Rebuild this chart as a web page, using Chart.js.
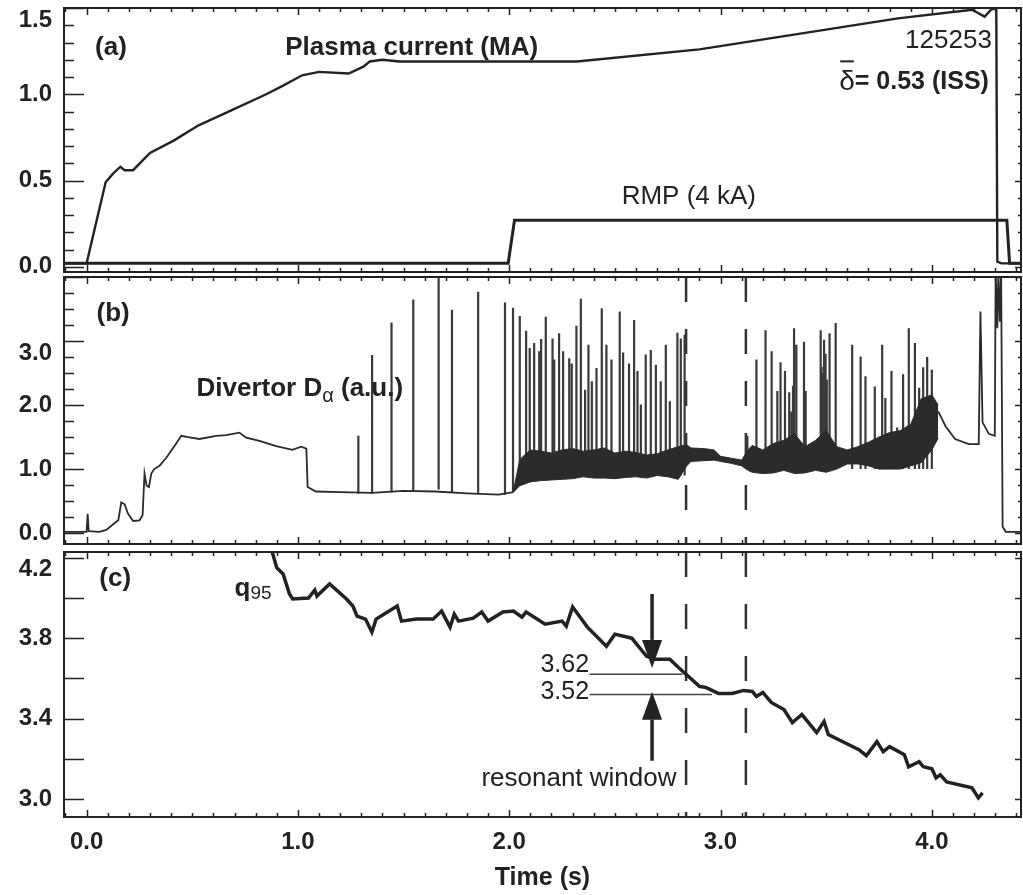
<!DOCTYPE html>
<html>
<head>
<meta charset="utf-8">
<script src="https://cdn.jsdelivr.net/npm/chart.js@4.4.1/dist/chart.umd.min.js"></script>
<style>
  html, body { margin: 0; padding: 0; background: #fff; }
  #wrap { position: relative; width: 1023px; height: 895px; overflow: hidden; }
  canvas { position: absolute; left: 0; }
</style>
</head>
<body>
<div id="wrap">
  <canvas id="panelA" width="1023" height="280" style="top:0px"></canvas>
  <canvas id="panelB" width="1023" height="277" style="top:275px"></canvas>
  <canvas id="panelC" width="1023" height="348" style="top:547px"></canvas>
</div>
<script>
const ink = "#222";
const sans = "'Liberation Sans', Arial, Helvetica, sans-serif";

// shared time axis (s)
const tMin = -0.107, tMax = 4.422;
const xTickVals = [0, 1, 2, 3, 4];

// (a) plasma current and RMP coil current
const ipT = [-0.107, 0.0, 0.09, 0.125, 0.16, 0.18, 0.22, 0.30, 0.41, 0.53, 0.69, 0.85, 0.93, 1.02, 1.10, 1.24, 1.31, 1.34, 1.40, 1.48, 1.70, 2.00, 2.32, 2.90, 3.37, 3.84, 4.19, 4.25, 4.28, 4.305, 4.31, 4.33, 4.422];
const ipV = [0.02, 0.02, 0.49, 0.54, 0.58, 0.56, 0.56, 0.66, 0.73, 0.82, 0.91, 1.00, 1.05, 1.11, 1.13, 1.12, 1.16, 1.19, 1.20, 1.19, 1.19, 1.19, 1.19, 1.26, 1.35, 1.44, 1.49, 1.45, 1.49, 1.50, 0.03, 0.02, 0.02];
const rmpT = [-0.107, 1.995, 2.025, 4.355, 4.368, 4.422];
const rmpV = [0.02, 0.02, 0.27, 0.27, 0.02, 0.02];
const yTicksA = [0, 0.5, 1.0, 1.5];

// (b) divertor D-alpha
const daPre = [[-0.107, 0.02], [0.0, 0.02], [0.005, 0.3], [0.01, 0.03], [0.06, 0.02], [0.093, 0.05], [0.13, 0.15], [0.15, 0.2], [0.164, 0.48], [0.18, 0.45], [0.195, 0.31], [0.22, 0.19], [0.25, 0.2], [0.265, 0.28], [0.274, 0.93], [0.284, 0.74], [0.295, 0.72], [0.306, 0.93], [0.32, 1.0], [0.345, 1.05], [0.378, 1.18], [0.416, 1.36], [0.448, 1.52], [0.48, 1.5], [0.534, 1.47], [0.613, 1.52], [0.66, 1.53], [0.723, 1.57], [0.755, 1.49], [0.818, 1.44], [0.897, 1.36], [0.974, 1.3], [1.015, 1.35], [1.04, 1.32], [1.046, 0.72], [1.085, 0.65], [1.2, 0.64], [1.35, 0.63], [1.5, 0.66], [1.65, 0.65], [1.8, 0.62], [1.95, 0.6], [2.02, 0.64]];
const daPost = [[4.03, 1.9], [4.065, 1.67], [4.11, 1.47], [4.175, 1.39], [4.222, 1.39], [4.23, 3.46], [4.24, 1.73], [4.27, 1.55], [4.298, 1.52], [4.302, 4.1], [4.31, 3.2], [4.315, 4.1], [4.322, 3.3], [4.328, 4.1], [4.335, 0.1], [4.35, 0.02], [4.422, 0.02]];
const elmT = [1.286, 1.351, 1.443, 1.546, 1.666, 1.729, 1.853, 1.98, 2.018,
  2.05, 2.08, 2.097, 2.118, 2.142, 2.151, 2.173, 2.205, 2.213, 2.236,
  2.255, 2.284, 2.296, 2.318, 2.339, 2.359, 2.375, 2.391, 2.413, 2.438,
  2.46, 2.484, 2.523, 2.539, 2.567, 2.591, 2.607, 2.623, 2.646, 2.67,
  2.694, 2.717, 2.741, 2.76, 2.796, 2.812, 2.83,
  3.127, 3.17, 3.213, 3.242, 3.269, 3.284, 3.305, 3.348, 3.359, 3.395,
  3.403, 3.474, 3.49, 3.516, 3.545, 3.623, 3.663, 3.686, 3.73, 3.765,
  3.78, 3.809, 3.836, 3.864, 3.891, 3.92, 3.94, 3.959, 3.978, 4.0,
  3.325, 3.336, 3.343, 3.478, 3.484, 3.497, 3.503];
const elmPeak = [1.52, 2.78, 3.29, 3.65, 4.1, 3.49, 3.77, 3.6, 3.52,
  3.39, 3.16, 2.89, 2.97, 2.84, 3.03, 3.38, 3.04, 2.71, 3.12,
  2.84, 2.73, 2.65, 3.24, 3.66, 2.24, 2.94, 2.37, 2.58, 3.51,
  2.94, 2.71, 3.46, 2.82, 2.65, 3.33, 2.53, 2.01, 2.79, 2.86,
  2.63, 2.37, 2.94, 2.06, 3.13, 3.04, 3.10,
  1.52, 2.71, 3.17, 2.84, 2.22, 2.67, 2.53, 3.2, 2.94, 2.99,
  2.22, 3.17, 3.02, 3.12, 3.28, 2.94, 2.76, 2.45, 2.29, 2.94,
  2.11, 2.53, 1.65, 2.48, 3.2, 2.97, 2.27, 2.59, 2.75, 2.55,
  2.2, 1.9, 2.3, 2.6, 2.5, 2.8, 2.4];
const elmFoot = [0.62, 0.62, 0.64, 0.66, 0.68, 0.64, 0.61, 0.60, 0.64,
  0.9, 0.9, 0.9, 0.9, 0.9, 0.9, 0.9, 0.9, 0.9, 0.9,
  0.9, 0.9, 0.9, 0.9, 0.9, 0.9, 0.9, 0.9, 0.9, 0.9,
  0.9, 0.9, 0.9, 0.9, 0.9, 0.9, 0.9, 0.9, 0.9, 0.9,
  0.9, 0.9, 0.9, 0.9, 0.9, 0.9, 0.9,
  1.0, 1.0, 1.0, 1.0, 1.0, 1.0, 1.0, 1.0, 1.0, 1.0,
  1.0, 1.0, 1.0, 1.0, 1.0, 1.0, 1.0, 1.0, 1.0, 1.0,
  1.0, 1.0, 1.0, 1.0, 1.0, 1.0, 1.0, 1.0, 1.0, 1.0,
  1.0, 1.0, 1.0, 1.0, 1.0, 1.0, 1.0];
// dense ELM band: lower / upper envelope
const bandT = [2.02, 2.05, 2.10, 2.15, 2.20, 2.25, 2.30, 2.35, 2.40, 2.45, 2.50, 2.55, 2.60, 2.65, 2.70, 2.75, 2.80, 2.84,
  2.86, 2.92, 2.97, 3.00, 3.05, 3.10,
  3.13, 3.15, 3.20, 3.25, 3.30, 3.35, 3.40, 3.45, 3.50, 3.55, 3.60, 3.65, 3.70, 3.75, 3.80, 3.85, 3.90, 3.95, 4.00, 4.03];
const bandLo = [0.64, 0.74, 0.80, 0.82, 0.83, 0.84, 0.85, 0.88, 0.86, 0.86, 0.85, 0.87, 0.88, 0.86, 0.90, 0.88, 0.84, 1.05,
  1.12, 1.13, 1.14, 1.12, 1.09, 1.05,
  0.98, 0.95, 0.93, 0.94, 0.98, 0.93, 0.94, 0.98, 0.95, 1.0, 1.08, 1.08, 1.05, 1.0, 1.0, 1.0, 1.05, 1.1, 1.3, 1.48];
const bandHi = [0.66, 1.15, 1.30, 1.28, 1.25, 1.30, 1.32, 1.28, 1.30, 1.33, 1.25, 1.28, 1.26, 1.22, 1.24, 1.30, 1.35, 1.38,
  1.33, 1.32, 1.30, 1.20, 1.17, 1.14,
  1.30, 1.37, 1.30, 1.40, 1.45, 1.55, 1.35, 1.45, 1.6, 1.35, 1.3, 1.35, 1.42, 1.5, 1.57, 1.6, 1.7, 2.1, 2.16, 2.0];
const yTicksB = [0, 1, 2, 3];
const windowT = [2.837, 3.12];

// (c) q95
const qT = [0.87, 0.90, 0.93, 0.96, 0.975, 1.05, 1.08, 1.09, 1.15, 1.23, 1.26, 1.28, 1.32, 1.35, 1.37, 1.47, 1.49, 1.56, 1.64, 1.68,
  1.72, 1.74, 1.76, 1.83, 1.87, 1.90, 1.97, 2.02, 2.06, 2.08, 2.17, 2.25, 2.27, 2.30, 2.37, 2.46, 2.50, 2.58, 2.65, 2.69,
  2.76, 2.80, 2.90, 2.93, 2.99, 3.055, 3.11, 3.15, 3.17, 3.20, 3.24, 3.30, 3.34, 3.385, 3.455, 3.49, 3.51, 3.655, 3.69, 3.74,
  3.77, 3.80, 3.87, 3.89, 3.94, 3.96, 4.00, 4.02, 4.04, 4.07, 4.19, 4.22, 4.24];
const qV = [4.26, 4.15, 4.12, 4.02, 3.995, 4.0, 4.04, 4.01, 4.07, 3.995, 3.96, 3.91, 3.895, 3.83, 3.895, 3.96, 3.885, 3.895, 3.895, 3.935,
  3.855, 3.92, 3.885, 3.9, 3.93, 3.885, 3.93, 3.935, 3.905, 3.93, 3.87, 3.885, 3.86, 3.955, 3.855, 3.76, 3.82, 3.80, 3.71, 3.695,
  3.695, 3.655, 3.56, 3.555, 3.525, 3.525, 3.54, 3.535, 3.51, 3.53, 3.48, 3.445, 3.38, 3.42, 3.33, 3.385, 3.32, 3.245, 3.215, 3.285,
  3.235, 3.26, 3.22, 3.16, 3.185, 3.16, 3.15, 3.105, 3.12, 3.085, 3.055, 3.005, 3.03];
const yTicksC = [3.0, 3.4, 3.8, 4.2];
const qLevels = [3.62, 3.52];
const qLevelFrom = [2.38, 2.38];
const qLevelTo = [2.82, 2.96];

const rangeA = [-0.03, 1.5], rangeB = [-0.17, 4.0], rangeC = [2.91, 4.229];

const pts = (xs, ys) => xs.map((x, i) => ({ x: x, y: ys[i] }));
const pairs = (arr) => arr.map((p) => ({ x: p[0], y: p[1] }));

let elmPts = [];
elmT.forEach((t, i) => {
  elmPts.push({ x: t, y: elmFoot[i] }, { x: t, y: elmPeak[i] }, { x: t, y: null });
});

function lineSet(data, width, extra) {
  return Object.assign({ data: data, borderColor: ink, borderWidth: width, pointRadius: 0, fill: false, tension: 0 }, extra || {});
}

function dashSets(range) {
  return windowT.map((t) => lineSet([{ x: t, y: range[1] }, { x: t, y: range[0] }], 2.5, { borderColor: "#333", borderDash: [25, 27] }));
}

// inward IDL-style ticks plus the box
function framePlugin(minor, major) {
  return {
    id: "frame",
    afterDatasetsDraw(chart) {
      const { ctx, chartArea: a, scales: { x, y } } = chart;
      ctx.save();
      ctx.strokeStyle = ink;
      ctx.lineWidth = 1.5;
      ctx.beginPath();
      for (let k = Math.ceil(x.min * 10); k <= Math.floor(x.max * 10); k++) {
        const px = Math.round(x.getPixelForValue(k / 10)) + 0.5;
        const len = k % 10 === 0 ? 7 : 4;
        ctx.moveTo(px, a.bottom); ctx.lineTo(px, a.bottom - len);
        ctx.moveTo(px, a.top); ctx.lineTo(px, a.top + len);
      }
      const n0 = Math.ceil(y.min / minor - 1e-6), n1 = Math.floor(y.max / minor + 1e-6);
      for (let k = n0; k <= n1; k++) {
        const v = k * minor;
        const r = v / major;
        const big = Math.abs(r - Math.round(r)) < 1e-6;
        const py = Math.round(y.getPixelForValue(v)) + 0.5;
        ctx.moveTo(a.left, py); ctx.lineTo(a.left + (big ? 20 : 10), py);
        ctx.moveTo(a.right, py); ctx.lineTo(a.right - (big ? 6 : 3), py);
      }
      ctx.stroke();
      ctx.lineWidth = 2;
      ctx.strokeRect(a.left, a.top, a.right - a.left, a.bottom - a.top);
      ctx.restore();
    }
  };
}

// text notes placed in data coordinates
function notesPlugin(items, arrows) {
  return {
    id: "notes",
    afterDatasetsDraw(chart) {
      const { ctx, scales: { x, y } } = chart;
      ctx.save();
      ctx.fillStyle = ink;
      ctx.strokeStyle = ink;
      ctx.textBaseline = "middle";
      items.forEach((n) => {
        const px = x.getPixelForValue(n.t), py = y.getPixelForValue(n.v);
        let w = 0;
        n.parts.forEach((p) => { ctx.font = p.font; w += ctx.measureText(p.text).width; });
        let cx = n.align === "right" ? px - w : n.align === "center" ? px - w / 2 : px;
        n.parts.forEach((p) => {
          ctx.font = p.font;
          const pw = ctx.measureText(p.text).width;
          ctx.fillText(p.text, cx, py + (p.dy || 0));
          if (p.bar) ctx.fillRect(cx + 1, py - 22, pw - 2, 2);
          cx += pw;
        });
      });
      (arrows || []).forEach((ar) => {
        const px = x.getPixelForValue(ar.t);
        const y0 = y.getPixelForValue(ar.from), y1 = y.getPixelForValue(ar.to);
        const dir = y1 > y0 ? 1 : -1;
        const head = 28, half = 10;
        ctx.lineWidth = 3.5;
        ctx.beginPath();
        ctx.moveTo(px, y0); ctx.lineTo(px, y1 - dir * head);
        ctx.stroke();
        ctx.beginPath();
        ctx.moveTo(px, y1);
        ctx.lineTo(px - half, y1 - dir * head);
        ctx.lineTo(px + half, y1 - dir * head);
        ctx.closePath();
        ctx.fill();
      });
      ctx.restore();
    }
  };
}

function yAxis(range, ticks) {
  const top = ticks[ticks.length - 1];
  return {
    min: range[0], max: range[1],
    afterFit: (s) => { s.width = 64; s.paddingTop = 0; s.paddingBottom = 0; },
    afterBuildTicks: (s) => { s.ticks = ticks.map((v) => ({ value: v })); },
    grid: { display: false, drawTicks: false },
    border: { display: false },
    ticks: {
      autoSkip: false, padding: 12, color: ink,
      font: { family: sans, size: 24, weight: "bold", lineHeight: 1.0 },
      callback: (v) => (v === top ? ["", v.toFixed(1)] : v.toFixed(1))
    }
  };
}

function xAxis(show) {
  const ax = {
    type: "linear", min: tMin, max: tMax,
    display: show,
    grid: { display: false, drawTicks: false },
    border: { display: false }
  };
  if (show) {
    ax.afterFit = (s) => { s.height = 76; s.paddingLeft = 0; s.paddingRight = 0; };
    ax.afterBuildTicks = (s) => { s.ticks = xTickVals.map((v) => ({ value: v })); };
    ax.ticks = { autoSkip: false, maxRotation: 0, padding: 11, color: ink,
      font: { family: sans, size: 24, weight: "bold" }, callback: (v) => v.toFixed(1) };
    ax.title = { display: true, text: "Time (s)", color: ink, padding: { top: 0, bottom: 0 },
      font: { family: sans, size: 25, weight: "bold" } };
  }
  return ax;
}

function makeChart(id, datasets, padding, range, ticks, showX, plugins) {
  return new Chart(document.getElementById(id), {
    type: "line",
    data: { datasets: datasets },
    options: {
      responsive: false,
      animation: false,
      events: [],
      layout: { padding: padding },
      plugins: { legend: { display: false }, tooltip: { enabled: false } },
      scales: { x: xAxis(showX), y: yAxis(range, ticks) }
    },
    plugins: plugins
  });
}

const b26 = "bold 26px " + sans;
const n26 = "26px " + sans;

const notesA = [
  { t: 0.04, v: 1.27, parts: [{ text: "(a)", font: b26 }] },
  { t: 0.94, v: 1.27, parts: [{ text: "Plasma current (MA)", font: b26 }] },
  { t: 4.284, v: 1.312, align: "right", parts: [{ text: "125253", font: n26 }] },
  { t: 4.27, v: 1.069, align: "right", parts: [{ text: "δ", font: "28px " + sans, bar: true }, { text: "= 0.53 (ISS)", font: "bold 25px " + sans }] },
  { t: 2.85, v: 0.405, align: "center", parts: [{ text: "RMP (4 kA)", font: n26 }] }
];
const notesB = [
  { t: 0.047, v: 3.43, parts: [{ text: "(b)", font: b26 }] },
  { t: 0.52, v: 2.25, parts: [{ text: "Divertor D", font: b26 }, { text: "α", font: "20px " + sans, dy: 7 }, { text: " (a.u.)", font: b26 }] }
];
const notesC = [
  { t: 0.06, v: 4.094, parts: [{ text: "(c)", font: b26 }] },
  { t: 0.70, v: 4.044, parts: [{ text: "q", font: b26 }, { text: "95", font: "19px " + sans, dy: 5 }] },
  { t: 2.378, v: 3.666, align: "right", parts: [{ text: "3.62", font: "25px " + sans }] },
  { t: 2.378, v: 3.531, align: "right", parts: [{ text: "3.52", font: "25px " + sans }] },
  { t: 2.33, v: 3.098, align: "center", parts: [{ text: "resonant window", font: n26 }] }
];
const arrowsC = [
  { t: 2.676, from: 4.02, to: 3.652 },
  { t: 2.676, from: 3.19, to: 3.534 }
];

makeChart("panelA",
  [lineSet(pts(ipT, ipV), 2.4), lineSet(pts(rmpT, rmpV), 3)],
  { left: 0, right: 2, top: 8, bottom: 8 }, rangeA, yTicksA, false,
  [framePlugin(0.1, 0.5), notesPlugin(notesA)]);

makeChart("panelB",
  [
    lineSet(pts(bandT, bandLo), 1, { borderColor: "#2b2b2b" }),
    lineSet(pts(bandT, bandHi), 1, { borderColor: "#2b2b2b", fill: "-1", backgroundColor: "#2b2b2b" }),
    lineSet(pairs(daPre), 1.8, { borderColor: "#2a2a2a" }),
    lineSet(pairs(daPost), 1.8, { borderColor: "#2a2a2a" }),
    lineSet(elmPts, 2.2, { borderColor: "#3a3a3a", spanGaps: false }),
    ...dashSets(rangeB)
  ],
  { left: 0, right: 2, top: 2, bottom: 8 }, rangeB, yTicksB, false,
  [framePlugin(0.25, 1), notesPlugin(notesB)]);

makeChart("panelC",
  [
    lineSet(pts(qT, qV), 3.5),
    ...qLevels.map((q, i) => lineSet([{ x: qLevelFrom[i], y: q }, { x: qLevelTo[i], y: q }], 1.5, { borderColor: "#444" })),
    ...dashSets(rangeC)
  ],
  { left: 0, right: 2, top: 5, bottom: 2 }, rangeC, yTicksC, true,
  [framePlugin(0.2, 0.2), notesPlugin(notesC, arrowsC)]);
</script>
</body>
</html>
